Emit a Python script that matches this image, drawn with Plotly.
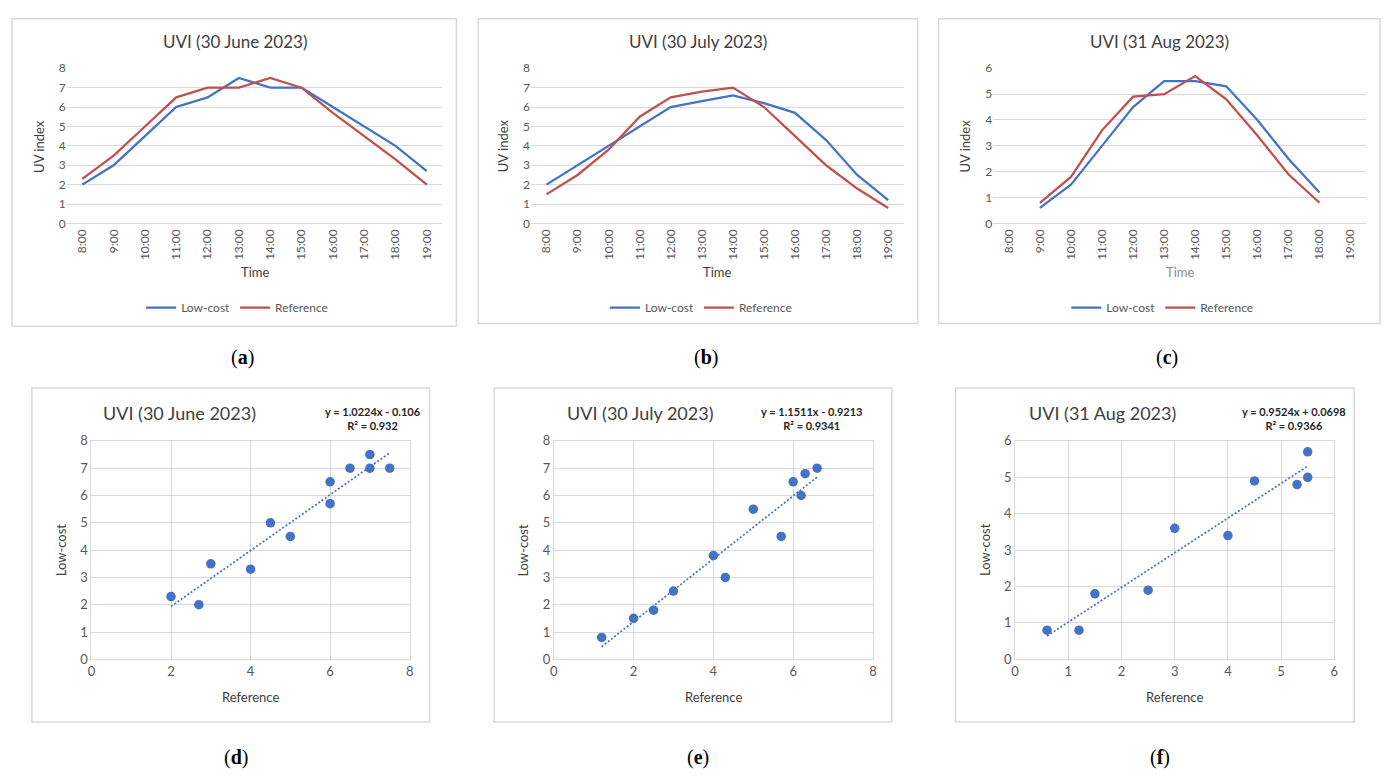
import plotly.graph_objects as go

W, H = 1388, 778

hours = ["8:00", "9:00", "10:00", "11:00", "12:00", "13:00", "14:00",
         "15:00", "16:00", "17:00", "18:00", "19:00"]

# Line charts (top row)
june_low = [2, 3, 4.5, 6, 6.5, 7.5, 7, 7, 6, 5, 4, 2.7]
june_ref = [2.3, 3.5, 5, 6.5, 7, 7, 7.5, 7, 5.7, 4.5, 3.3, 2]
july_low = [2, 3, 4, 5, 6, 6.3, 6.6, 6.2, 5.7, 4.3, 2.5, 1.2]
july_ref = [1.5, 2.5, 3.8, 5.5, 6.5, 6.8, 7, 6, 4.5, 3, 1.8, 0.8]
aug_low = [None, 0.6, 1.5, 3, 4.5, 5.5, 5.5, 5.3, 4, 2.5, 1.2, None]
aug_ref = [None, 0.8, 1.8, 3.6, 4.9, 5, 5.7, 4.8, 3.4, 1.9, 0.8, None]

# Scatter charts (bottom row)
june_sx = [2, 2.7, 3, 4, 4.5, 5, 6, 6, 6.5, 7, 7, 7.5]
june_sy = [2.3, 2, 3.5, 3.3, 5, 4.5, 6.5, 5.7, 7, 7.5, 7, 7]
july_sx = [1.2, 2, 2.5, 3, 4, 4.3, 5, 5.7, 6, 6.2, 6.3, 6.6]
july_sy = [0.8, 1.5, 1.8, 2.5, 3.8, 3, 5.5, 4.5, 6.5, 6, 6.8, 7]
aug_sx = [0.6, 1.2, 1.5, 2.5, 3, 4, 4.5, 5.3, 5.5, 5.5]
aug_sy = [0.8, 0.8, 1.8, 1.9, 3.6, 3.4, 4.9, 4.8, 5.7, 5]

fits = [(1.0224, -0.106, "0.932"), (1.1511, -0.9213, "0.9341"), (0.9524, 0.0698, "0.9366")]
eq_text = ["y = 1.0224x - 0.106", "y = 1.1511x - 0.9213", "y = 0.9524x + 0.0698"]

titles = ["UVI (30 June 2023)", "UVI (30 July 2023)", "UVI (31 Aug 2023)"]
letters_top = ["a", "b", "c"]
letters_bot = ["d", "e", "f"]

BLUE = "#4472C4"
RED = "#C0504D"
GRID = "#D9D9D9"
TXT = "#595959"
DARK = "#404040"
FONT = "Lato, Carlito, Calibri, sans-serif"


def px(x):
    return x / W


def py(y):
    return 1 - y / H


fig = go.Figure()

top_panels = [(8, 455), (477, 919), (940, 1384)]
top_plot_x = [(63, 441), (530, 905), (995, 1370)]
top_plot_y = (61.5, 220)
top_ymax = [8, 8, 6]
line_data = [(june_low, june_ref), (july_low, july_ref), (aug_low, aug_ref)]
top_title_x = [232, 698, 1162]

bot_panels = [(28, 428), (493, 893), (957, 1358)]
bot_plot_x = [(88, 408), (553, 874), (1017, 1338)]
bot_plot_y = (442, 665)
bot_max = [(8, 8, 2), (8, 8, 2), (6, 6, 1)]
scat_data = [(june_sx, june_sy), (july_sx, july_sy), (aug_sx, aug_sy)]
bot_title_x = [177, 640, 1105]
eq_x = [371, 812, 1297]

shapes = []
annotations = []
layout = {}

for i in range(3):
    # ---------------- top line chart ----------------
    n = i + 1
    xa = "x" if n == 1 else f"x{n}"
    ya = "y" if n == 1 else f"y{n}"
    leg = "legend" if n == 1 else f"legend{n}"
    low, ref = line_data[i]
    fig.add_trace(go.Scatter(x=hours, y=low, mode="lines", name="Low-cost",
                             line=dict(color=BLUE, width=2.25), xaxis=xa, yaxis=ya,
                             legend=leg, connectgaps=False))
    fig.add_trace(go.Scatter(x=hours, y=ref, mode="lines", name="Reference",
                             line=dict(color=RED, width=2.25), xaxis=xa, yaxis=ya,
                             legend=leg, connectgaps=False))
    x0, x1 = top_plot_x[i]
    layout["xaxis" if n == 1 else f"xaxis{n}"] = dict(
        domain=[px(x0), px(x1)], anchor=ya, type="category",
        categoryorder="array", categoryarray=hours,
        range=[-0.5, len(hours) - 0.5], tickangle=-90, showgrid=False,
        showline=True, linecolor=GRID, linewidth=1, ticks="",
        tickfont=dict(family=FONT, size=12, color=TXT), fixedrange=True)
    layout["yaxis" if n == 1 else f"yaxis{n}"] = dict(
        domain=[py(top_plot_y[1]), py(top_plot_y[0])], anchor=xa,
        range=[0, top_ymax[i]], dtick=1, showgrid=True, gridcolor=GRID,
        zeroline=False, showline=False, ticks="",
        tickfont=dict(family=FONT, size=12, color=TXT), fixedrange=True)
    layout[leg] = dict(orientation="h", x=px(sum(top_panels[i]) / 2 + 3), y=py(306),
                       xanchor="center", yanchor="middle", bgcolor="rgba(0,0,0,0)",
                       font=dict(family=FONT, size=12, color=TXT), itemwidth=30)
    # panel border
    shapes.append(dict(type="rect", xref="paper", yref="paper",
                       x0=px(top_panels[i][0]), x1=px(top_panels[i][1]),
                       y0=py(325 if i == 0 else 322), y1=py(11),
                       line=dict(color=GRID, width=1.5)))
    annotations.append(dict(text=titles[i], xref="paper", yref="paper",
                            x=px(top_title_x[i]), y=py(34), showarrow=False,
                            xanchor="center", yanchor="middle",
                            font=dict(family=FONT, size=17, color=DARK)))
    annotations.append(dict(text="Time", xref="paper", yref="paper",
                            x=px((x0 + x1) / 2), y=py(270), showarrow=False,
                            xanchor="center", yanchor="middle",
                            font=dict(family=FONT, size=13,
                                      color="#8C8C8C" if i == 2 else DARK)))
    annotations.append(dict(text="UV index", xref="paper", yref="paper",
                            x=px(x0 - 28), y=py(141), showarrow=False, textangle=-90,
                            xanchor="center", yanchor="middle",
                            font=dict(family=FONT, size=13, color=DARK)))
    annotations.append(dict(text=f"(<b>{letters_top[i]}</b>)", xref="paper", yref="paper",
                            x=px(sum(top_panels[i]) / 2 + 8), y=py(357), showarrow=False,
                            xanchor="center", yanchor="middle",
                            font=dict(family="Liberation Serif, serif", size=20, color="#000000")))

    # ---------------- bottom scatter chart ----------------
    m = i + 4
    xb = f"x{m}"
    yb = f"y{m}"
    sx, sy = scat_data[i]
    fig.add_trace(go.Scatter(x=sx, y=sy, mode="markers", showlegend=False,
                             marker=dict(color=BLUE, size=9.5), xaxis=xb, yaxis=yb))
    a, b, r2 = fits[i]
    tx = [min(sx), max(sx)]
    ty = [a * v + b for v in tx]
    fig.add_trace(go.Scatter(x=tx, y=ty, mode="lines", showlegend=False,
                             line=dict(color=BLUE, width=1.75, dash="2px,2px"),
                             xaxis=xb, yaxis=yb))
    bx0, bx1 = bot_plot_x[i]
    xmax, ymax, xd = bot_max[i]
    layout[f"xaxis{m}"] = dict(
        domain=[px(bx0), px(bx1)], anchor=yb, range=[0, xmax], dtick=xd,
        showgrid=True, gridcolor=GRID, zeroline=False, showline=True,
        linecolor=GRID, linewidth=1, mirror=True, ticks="",
        tickfont=dict(family=FONT, size=13, color=TXT), fixedrange=True)
    layout[f"yaxis{m}"] = dict(
        domain=[py(bot_plot_y[1]), py(bot_plot_y[0])], anchor=xb,
        range=[0, ymax], dtick=1, showgrid=True, gridcolor=GRID,
        zeroline=False, showline=True, linecolor=GRID, linewidth=1, mirror=True,
        ticks="", tickfont=dict(family=FONT, size=13, color=TXT), fixedrange=True)
    shapes.append(dict(type="rect", xref="paper", yref="paper",
                       x0=px(bot_panels[i][0]), x1=px(bot_panels[i][1]),
                       y0=py(729), y1=py(388),
                       line=dict(color=GRID, width=1.5)))
    annotations.append(dict(text=titles[i], xref="paper", yref="paper",
                            x=px(bot_title_x[i]), y=py(413), showarrow=False,
                            xanchor="center", yanchor="middle",
                            font=dict(family=FONT, size=18, color=DARK)))
    annotations.append(dict(text=f"<b>{eq_text[i]}<br>R² = {r2}</b>", xref="paper",
                            yref="paper", x=px(eq_x[i]), y=py(419), showarrow=False,
                            xanchor="center", yanchor="middle", align="center",
                            font=dict(family=FONT, size=11, color="#262626")))
    annotations.append(dict(text="Reference", xref="paper", yref="paper",
                            x=px((bx0 + bx1) / 2), y=py(703), showarrow=False,
                            xanchor="center", yanchor="middle",
                            font=dict(family=FONT, size=13, color=DARK)))
    annotations.append(dict(text="Low-cost", xref="paper", yref="paper",
                            x=px(bx0 - 31), y=py(553), showarrow=False, textangle=-90,
                            xanchor="center", yanchor="middle",
                            font=dict(family=FONT, size=13, color=DARK)))
    annotations.append(dict(text=f"(<b>{letters_bot[i]}</b>)", xref="paper", yref="paper",
                            x=px(sum(bot_panels[i]) / 2 + 5), y=py(765), showarrow=False,
                            xanchor="center", yanchor="middle",
                            font=dict(family="Liberation Serif, serif", size=20, color="#000000")))

fig.update_layout(
    width=W, height=H, margin=dict(l=0, r=0, t=0, b=0),
    paper_bgcolor="white", plot_bgcolor="white",
    shapes=shapes, annotations=annotations, **layout)

# remove the default page margin so the figure sits exactly in the window
fig.write_html("out.html", config={"displayModeBar": False},
               post_script="document.body.style.margin='0';"
                           "document.documentElement.style.overflow='hidden';")
